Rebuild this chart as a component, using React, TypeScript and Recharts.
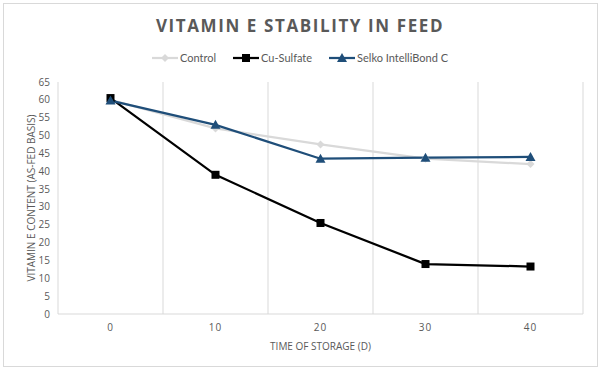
import { CartesianGrid, Line, LineChart, XAxis, YAxis } from "recharts";

const days = ["0", "10", "20", "30", "40"];
const control = [60, 52, 47.5, 43.5, 42];
const cuSulfate = [60.5, 39, 25.5, 14, 13.3];
const selko = [59.8, 53, 43.5, 43.8, 44];
const yTicks = [0, 5, 10, 15, 20, 25, 30, 35, 40, 45, 50, 55, 60, 65];

const data = days.map((day, i) => ({
  day,
  control: control[i],
  cu: cuSulfate[i],
  selko: selko[i],
}));

const GREY = "#595959";
const FONT = "'Open Sans', sans-serif";

const series = [
  { key: "control", name: "Control", color: "#d9d9d9", shape: "diamond" },
  { key: "cu", name: "Cu-Sulfate", color: "#000000", shape: "square" },
  { key: "selko", name: "Selko IntelliBond C", color: "#1f4e79", shape: "triangle" },
];

function marker(shape: string, cx: number, cy: number, color: string, key?: string) {
  if (shape === "square") {
    return <rect key={key} x={cx - 4} y={cy - 4} width={8} height={8} fill={color} />;
  }
  if (shape === "triangle") {
    return <polygon key={key} points={`${cx},${cy - 5} ${cx + 5},${cy + 4} ${cx - 5},${cy + 4}`} fill={color} />;
  }
  return <polygon key={key} points={`${cx},${cy - 4} ${cx + 4},${cy} ${cx},${cy + 4} ${cx - 4},${cy}`} fill={color} />;
}

const makeDot = (shape: string, color: string) => (props: any) =>
  marker(shape, props.cx, props.cy, color, `${shape}-${props.index}`);

function LegendBox() {
  return (
    <div
      style={{
        position: "absolute",
        top: 51,
        width: 600,
        display: "flex",
        justifyContent: "center",
        gap: 17,
        fontFamily: "Lato, sans-serif",
        fontSize: 11,
        color: GREY,
      }}
    >
      {series.map((s) => (
        <div key={s.key} style={{ display: "flex", alignItems: "center" }}>
          <svg width={26} height={12} style={{ marginRight: 2 }}>
            <line x1={0} y1={6} x2={26} y2={6} stroke={s.color} strokeWidth={2.25} />
            {marker(s.shape, 13, 6, s.color)}
          </svg>
          <span>{s.name}</span>
        </div>
      ))}
    </div>
  );
}

export default function App() {
  return (
    <div style={{ position: "absolute", left: 0, top: 0, width: 600, height: 370, background: "#fff" }}>
      <div
        style={{
          position: "absolute",
          left: 3,
          top: 3,
          width: 593,
          height: 362,
          border: "1px solid #d9d9d9",
        }}
      />
      <div
        style={{
          position: "absolute",
          top: 14,
          width: 600,
          textAlign: "center",
          fontFamily: FONT,
          fontWeight: 700,
          fontSize: 17,
          letterSpacing: 1.6,
          color: GREY,
        }}
      >
        VITAMIN E STABILITY IN FEED
      </div>
      <LegendBox />
      <LineChart width={600} height={370} data={data} margin={{ top: 82, right: 17, left: 0, bottom: 0 }}>
        <CartesianGrid
          horizontal={false}
          stroke="#d9d9d9"
          verticalCoordinatesGenerator={({ offset }: any) =>
            Array.from({ length: days.length + 1 }, (_, i) => offset.left + (i * offset.width) / days.length)
          }
        />
        <XAxis
          dataKey="day"
          padding={{ left: 52.5, right: 52.5 }}
          axisLine={{ stroke: "#d9d9d9" }}
          tickLine={false}
          height={56}
          tick={{ fill: GREY, fontSize: 10, fontFamily: FONT, letterSpacing: 1 }}
          tickMargin={4}
          label={{ value: "TIME OF STORAGE (D)", position: "insideBottom", offset: 20, fill: GREY, fontSize: 10, fontFamily: FONT }}
        />
        <YAxis
          domain={[0, 65]}
          ticks={yTicks}
          interval={0}
          width={58}
          axisLine={false}
          tickLine={false}
          tick={{ fill: GREY, fontSize: 10, fontFamily: FONT }}
          tickMargin={2}
          label={{
            value: "VITAMIN E CONTENT (AS-FED BASIS)",
            angle: -90,
            position: "insideLeft",
            offset: 31,
            style: { textAnchor: "middle" },
            fill: GREY,
            fontSize: 10,
            fontFamily: FONT,
          }}
        />
        {series.map((s) => (
          <Line
            key={s.key}
            dataKey={s.key}
            name={s.name}
            stroke={s.color}
            strokeWidth={2.25}
            dot={makeDot(s.shape, s.color)}
            activeDot={false}
            isAnimationActive={false}
          />
        ))}
      </LineChart>
    </div>
  );
}
